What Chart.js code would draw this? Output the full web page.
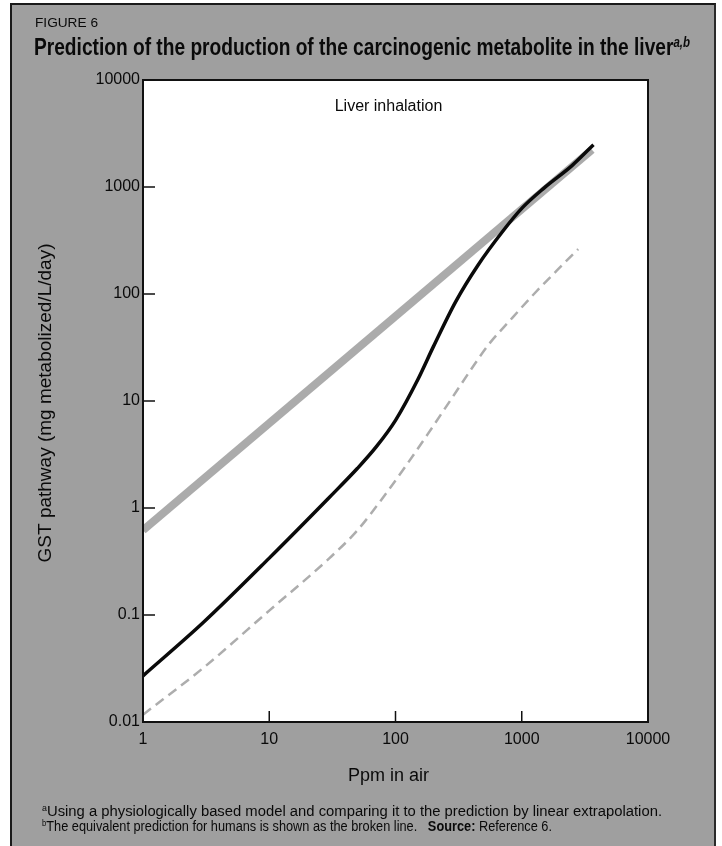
<!DOCTYPE html>
<html>
<head>
<meta charset="utf-8">
<script src="https://cdn.jsdelivr.net/npm/chart.js@4.4.1/dist/chart.umd.min.js"></script>
<style>
html, body { margin: 0; padding: 0; background: #fff; }
#fig { position: relative; width: 722px; height: 846px; overflow: hidden; }
#panel {
  position: absolute; left: 10px; top: 3px; width: 706px; height: 850px;
  background: #9f9f9f; box-sizing: border-box;
  border-left: 2px solid #1a1a1a; border-top: 2px solid #1a1a1a; border-right: 2px solid #2a2a2a;
}
#chart { position: absolute; left: 0; top: 0; }
.txt {
  position: absolute; font-family: "Liberation Sans", Arial, Helvetica, sans-serif;
  color: #0a0a0a; white-space: nowrap; transform-origin: 0 0; line-height: 1;
}
.txt sup { font-size: 0.6em; font-style: italic; vertical-align: 0.6em; line-height: 0; }
</style>
</head>
<body>
<div id="fig">
  <div id="panel"></div>
  <canvas id="chart" width="722" height="846"></canvas>
  <div class="txt" id="figno" style="left:35px;top:16px;font-size:13px;">FIGURE 6</div>
  <div class="txt" id="title" style="left:34px;top:36px;font-size:23px;font-weight:bold;">Prediction of the production of the carcinogenic metabolite in the liver<sup>a,b</sup></div>
  <div class="txt" id="note1" style="left:42px;top:804px;font-size:14px;"><sup style="font-style:normal">a</sup>Using a physiologically based model and comparing it to the prediction by linear extrapolation.</div>
  <div class="txt" id="note2" style="left:42px;top:819px;font-size:14px;"><sup style="font-style:normal">b</sup>The equivalent prediction for humans is shown as the broken line.&nbsp;&nbsp; <b>Source:</b> Reference 6.</div>
</div>
<script>
// ppm in air vs GST pathway (mg metabolized/L/day)
let ppmModel = [1, 3, 10, 30, 50, 70, 100, 150, 200, 300, 450, 700, 1000, 1500, 2500, 3700];
let rateModel = [0.027, 0.085, 0.34, 1.26, 2.35, 3.7, 6.6, 15.8, 32.4, 85, 186, 380, 631, 977, 1585, 2480];

let ppmLinear = [1, 3600];
let rateLinear = [0.62, 2230];

let ppmHuman = [1, 3, 10, 30, 50, 80, 120, 180, 270, 400, 550, 800, 1250, 1900, 2800];
let rateHuman = [0.0117, 0.032, 0.11, 0.34, 0.62, 1.26, 2.45, 4.9, 10, 20, 34, 56, 100, 166, 263];

let xTicks = [1, 10, 100, 1000, 10000];
let xTickLabels = ["1", "10", "100", "1000", "10000"];
let yTicks = [0.01, 0.1, 1, 10, 100, 1000, 10000];
let yTickLabels = ["0.01", "0.1", "1", "10", "100", "1000", "10000"];

const FONT = '"Liberation Sans", Arial, Helvetica, sans-serif';

function pts(xs, ys) {
  return xs.map((x, i) => ({ x: x, y: ys[i] }));
}

// squeeze the heading texts to the width they have in the print
function fitWidth(id, w) {
  let el = document.getElementById(id);
  let cur = el.getBoundingClientRect().width;
  el.style.transform = "scaleX(" + (w / cur) + ")";
}
fitWidth("figno", 63);
fitWidth("title", 656);
fitWidth("note1", 620);
fitWidth("note2", 510);

// white plot box, frame, inward ticks and the labels
const plotDeco = {
  id: "plotDeco",
  beforeDraw(chart) {
    const { ctx, chartArea: a } = chart;
    ctx.save();
    ctx.fillStyle = "#ffffff";
    ctx.fillRect(a.left, a.top, a.right - a.left, a.bottom - a.top);
    ctx.restore();
  },
  afterDraw(chart) {
    const { ctx, chartArea: a, scales } = chart;
    ctx.save();
    ctx.strokeStyle = "#111";
    ctx.lineWidth = 2;
    ctx.strokeRect(a.left, a.top, a.right - a.left, a.bottom - a.top);

    ctx.lineWidth = 1.5;
    ctx.beginPath();
    xTicks.forEach((v) => {
      let px = scales.x.getPixelForValue(v);
      ctx.moveTo(px, a.bottom);
      ctx.lineTo(px, a.bottom - 11);
    });
    yTicks.forEach((v) => {
      let py = scales.y.getPixelForValue(v);
      ctx.moveTo(a.left, py);
      ctx.lineTo(a.left + 12, py);
    });
    ctx.stroke();

    ctx.fillStyle = "#0a0a0a";
    ctx.textAlign = "center";
    ctx.textBaseline = "middle";
    ctx.font = "16px " + FONT;
    ctx.fillText("Liver inhalation", (a.left + a.right) / 2 - 7, 107);

    ctx.font = "18px " + FONT;
    ctx.fillText("Ppm in air", (a.left + a.right) / 2 - 7, 776);

    ctx.translate(46, 403);
    ctx.rotate(-Math.PI / 2);
    ctx.font = "19px " + FONT;
    ctx.fillText("GST pathway (mg metabolized/L/day)", 0, 0);
    ctx.restore();
  },
};

new Chart(document.getElementById("chart"), {
  type: "line",
  data: {
    datasets: [
      {
        label: "Physiologically based model",
        data: pts(ppmModel, rateModel),
        borderColor: "#0a0a0a",
        borderWidth: 3.5,
        pointRadius: 0,
        cubicInterpolationMode: "monotone",
      },
      {
        label: "Linear extrapolation",
        data: pts(ppmLinear, rateLinear),
        borderColor: "#ababab",
        borderWidth: 8,
        pointRadius: 0,
      },
      {
        label: "Humans",
        data: pts(ppmHuman, rateHuman),
        borderColor: "#adadad",
        borderWidth: 2.5,
        borderDash: [10, 6],
        pointRadius: 0,
        cubicInterpolationMode: "monotone",
      },
    ],
  },
  options: {
    responsive: false,
    animation: false,
    layout: { padding: { top: 80, right: 74, left: 0, bottom: 0 } },
    plugins: { legend: { display: false }, tooltip: { enabled: false } },
    scales: {
      x: {
        type: "logarithmic",
        min: 1,
        max: 10000,
        grid: { display: false, drawTicks: false },
        border: { display: false },
        afterBuildTicks: (s) => { s.ticks = xTicks.map((v) => ({ value: v })); },
        afterFit: (s) => { s.height = 124; },
        ticks: {
          autoSkip: false,
          maxRotation: 0,
          padding: 8,
          color: "#0a0a0a",
          font: { family: FONT, size: 16 },
          callback: (v) => xTickLabels[xTicks.indexOf(v)],
        },
      },
      y: {
        type: "logarithmic",
        min: 0.01,
        max: 10000,
        grid: { display: false, drawTicks: false },
        border: { display: false },
        afterBuildTicks: (s) => { s.ticks = yTicks.map((v) => ({ value: v })); },
        afterFit: (s) => { s.width = 143; },
        ticks: {
          autoSkip: false,
          padding: 3,
          color: "#0a0a0a",
          font: { family: FONT, size: 16 },
          callback: (v) => yTickLabels[yTicks.indexOf(v)],
        },
      },
    },
  },
  plugins: [plotDeco],
});
</script>
</body>
</html>
